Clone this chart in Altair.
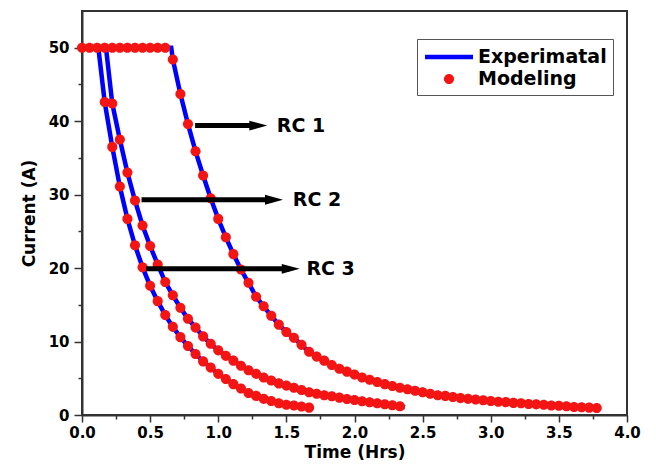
import altair as alt
import pandas as pd

FONT = "DejaVu Sans"

# sampling interval of the recorded points (hours)
STEP = 1 / 18

# Modeling points (red dots): flat 50 A part, then each RC decay
flat_y = [50] * 12                       # k = 0 .. 11
rc1_k0 = 12
rc1_y = [48.4, 43.7, 39.6, 35.9, 32.6, 29.5, 26.7, 24.2, 21.9, 19.8, 18.0, 16.1,
         14.8, 13.5, 12.3, 11.3, 10.5, 9.55, 8.6, 7.95, 7.4, 6.8, 6.3, 5.9, 5.5,
         5.1, 4.8, 4.5, 4.2, 3.95, 3.7, 3.5, 3.3, 3.1, 2.9, 2.7, 2.6, 2.45, 2.3,
         2.2, 2.1, 2.0, 1.9, 1.8, 1.75, 1.65, 1.6, 1.5, 1.45, 1.4, 1.3, 1.25, 1.2,
         1.1, 1.05, 1.0, 0.95]
rc2_k0 = 4
rc2_y = [42.4, 37.5, 33.0, 29.2, 25.8, 23.0, 20.5, 18.1, 16.3, 14.6, 13.1, 11.9,
         10.7, 9.7, 8.8, 8.05, 7.4, 6.7, 6.1, 5.6, 5.1, 4.7, 4.3, 4.0, 3.7, 3.4,
         3.1, 2.9, 2.7, 2.55, 2.36, 2.18, 2.05, 1.87, 1.73, 1.6, 1.46, 1.32, 1.19]
rc3_k0 = 3
rc3_y = [42.6, 36.5, 31.1, 26.7, 23.1, 20.1, 17.6, 15.5, 13.6, 12.0, 10.6, 9.4,
         8.3, 7.3, 6.45, 5.6, 4.9, 4.2, 3.6, 3.0, 2.6, 2.2, 1.9, 1.6, 1.4, 1.3,
         1.15, 1.0]

# Experimental line: start, corner where the current starts to drop, optional end
rc_names = ["RC 1", "RC 2", "RC 3"]
exp_corner_t = [0.655, 0.176, 0.12]
exp_end = {"RC 2": (2.37, 1.05)}

# annotation arrows
arrow_t0 = [0.83, 0.437, 0.47]
arrow_t1 = [1.36, 1.475, 1.598]
arrow_I = [39.4, 29.3, 19.9]
label_t = [1.43, 1.547, 1.647]

# ---------------------------------------------------------------- tables
series_y = {"RC 1": (rc1_k0, rc1_y), "RC 2": (rc2_k0, rc2_y), "RC 3": (rc3_k0, rc3_y)}

pts = [{"t": k * STEP, "I": v, "series": "Modeling"} for k, v in enumerate(flat_y)]
exp_rows = []
for name, corner in zip(rc_names, exp_corner_t):
    k0, ys = series_y[name]
    exp_rows.append({"t": 0.0, "I": 50.0, "rc": name})
    exp_rows.append({"t": corner, "I": 50.0, "rc": name})
    for i, v in enumerate(ys):
        t = (k0 + i) * STEP
        pts.append({"t": t, "I": v, "series": "Modeling"})
        exp_rows.append({"t": t, "I": v, "rc": name})
    if name in exp_end:
        exp_rows.append({"t": exp_end[name][0], "I": exp_end[name][1], "rc": name})

pts_df = pd.DataFrame(pts)
exp_df = pd.DataFrame(exp_rows)
arrow_df = pd.DataFrame({"t": arrow_t0, "t2": arrow_t1, "I": arrow_I, "rc": rc_names})
head_df = pd.DataFrame({"t": arrow_t1, "I": arrow_I})
label_df = pd.DataFrame({"t": label_t, "I": arrow_I, "rc": rc_names})

xscale = alt.Scale(domain=[0, 4], nice=False, zero=False)
yscale = alt.Scale(domain=[0, 55], nice=False, zero=False)

axis_common = dict(labelFont=FONT, labelFontSize=15, labelFontWeight="bold",
                   labelColor="black", titleFont=FONT, titleFontSize=17,
                   titleFontWeight="bold", titleColor="black", grid=False,
                   tickColor="#333", tickWidth=1.5, domainColor="#333",
                   domainWidth=2, labelFlush=False)

x_axis = alt.Axis(values=[0, 0.5, 1.0, 1.5, 2.0, 2.5, 3.0, 3.5, 4.0], format=".1f",
                  title="Time (Hrs)", tickSize=7, labelPadding=3, titlePadding=4,
                  **axis_common)
y_axis = alt.Axis(values=[0, 10, 20, 30, 40, 50], format="d", title="Current (A)",
                  tickSize=8, labelPadding=5, titlePadding=10, **axis_common)

line = alt.Chart(exp_df).mark_line(color="#0000ff", strokeWidth=4.5).encode(
    x=alt.X("t:Q", scale=xscale, axis=x_axis),
    y=alt.Y("I:Q", scale=yscale, axis=y_axis),
    detail="rc:N",
    order="t:Q",
)

BAR_PATH = "M-2,-0.18H2V0.18H-2Z"
DOT_PATH = "M0.42,0A0.42,0.42,0,1,1,-0.42,0A0.42,0.42,0,1,1,0.42,0Z"
leg_domain = ["Experimatal", "Modeling"]
legend = alt.Legend(title=None, orient="none", legendX=335, legendY=28,
                    symbolSize=576, symbolOffset=14, labelOffset=17,
                    labelFont=FONT, labelFontSize=19, labelFontWeight="bold",
                    labelColor="black", strokeColor="#555", fillColor="white",
                    padding=6, rowPadding=0, symbolStrokeWidth=0)

points = alt.Chart(pts_df).mark_point(filled=True, opacity=1, size=576, strokeWidth=0).encode(
    x="t:Q",
    y="I:Q",
    color=alt.Color("series:N", scale=alt.Scale(domain=leg_domain, range=["#0000ff", "#f41414"]),
                    legend=legend),
    shape=alt.Shape("series:N", scale=alt.Scale(domain=leg_domain, range=[BAR_PATH, DOT_PATH]),
                    legend=legend),
)

arrows = alt.Chart(arrow_df).mark_rule(color="black", strokeWidth=5, x2Offset=-10).encode(
    x="t:Q", x2="t2:Q", y="I:Q")

heads = alt.Chart(head_df).mark_point(shape="M0,0L-2,-0.55L-2,0.55Z", size=324, filled=True,
                                      color="black", opacity=1, strokeWidth=0).encode(
    x="t:Q", y="I:Q")

labels = alt.Chart(label_df).mark_text(align="left", baseline="middle", font=FONT,
                                       fontSize=19, fontWeight="bold", color="black").encode(
    x="t:Q", y="I:Q", text="rc:N")

main = alt.layer(line, points, arrows, heads, labels)

minor = alt.Chart(pd.DataFrame({"t": [0.0], "I": [0.0]})).mark_point(opacity=0).encode(
    x=alt.X("t:Q", scale=xscale,
            axis=alt.Axis(values=[0.25, 0.75, 1.25, 1.75, 2.25, 2.75, 3.25, 3.75],
                          labels=False, domain=False, tickSize=4, tickWidth=1.5,
                          tickColor="#333", grid=False, orient="bottom", title=None)),
    y=alt.Y("I:Q", scale=yscale,
            axis=alt.Axis(values=[5, 15, 25, 35, 45], labels=False, domain=False,
                          tickSize=4, tickWidth=1.5, tickColor="#333", grid=False,
                          orient="left", title=None)),
)

chart = alt.layer(main, minor).resolve_axis(x="independent", y="independent").properties(
    width=545, height=404,
    padding={"left": 74, "top": 3, "right": 20, "bottom": 52},
    autosize="none",
).configure_view(stroke="#333", strokeWidth=2)

chart.save("out.html", embed_options={"renderer": "svg", "actions": False})
